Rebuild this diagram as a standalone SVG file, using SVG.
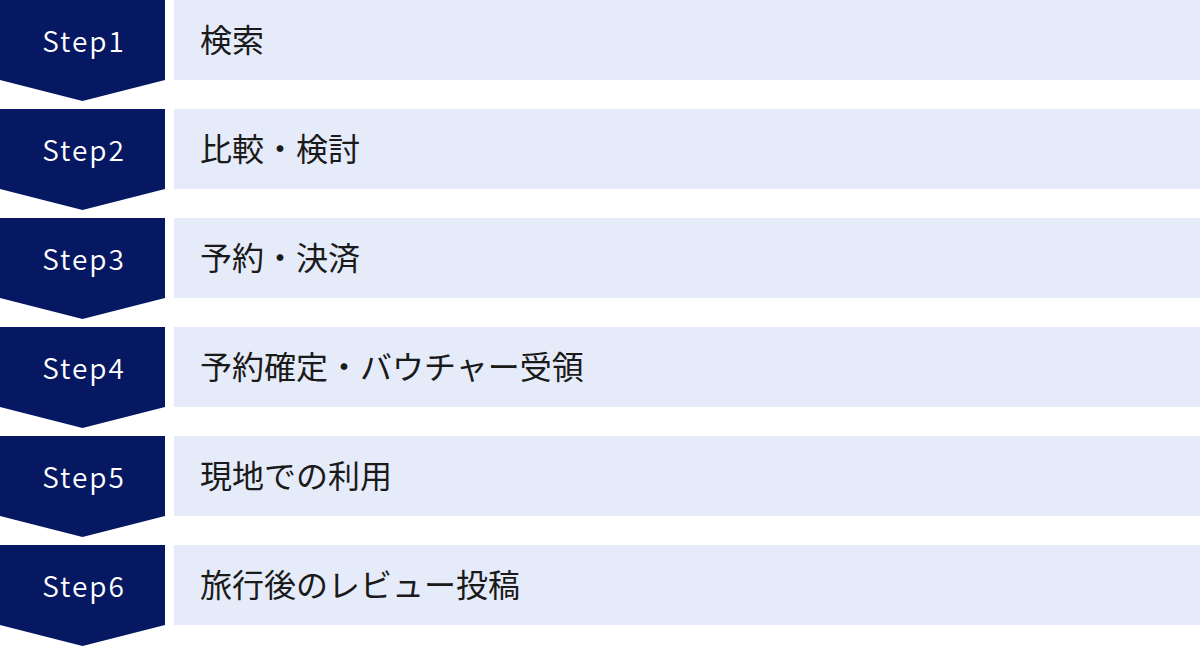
<svg xmlns="http://www.w3.org/2000/svg" width="1200" height="647" viewBox="0 0 1200 647">
<style>
.arrow{fill:#051861}
.bar{fill:#E5EBF8}
.step{font-family:"Noto Sans CJK JP","Noto Sans",sans-serif;font-size:28px;font-weight:350;fill:#ffffff;text-anchor:middle;letter-spacing:2px}
.label{font-family:"Noto Sans CJK JP","Noto Sans",sans-serif;font-size:32px;fill:#1a1a1a}
</style>
<defs>
<polygon id="chev" points="0,0 165,0 165,80 82.5,101 0,80"/>
</defs>
<g id="connectors"></g>
<g id="step1" transform="translate(0,0)">
<use href="#chev" class="arrow"/>
<rect class="bar" x="174" y="0" width="1026" height="80"/>
<text class="step" x="84" y="52">Step1</text>
<text class="label" x="200" y="52">検索</text>
</g>
<g id="step2" transform="translate(0,109)">
<use href="#chev" class="arrow"/>
<rect class="bar" x="174" y="0" width="1026" height="80"/>
<text class="step" x="84" y="52">Step2</text>
<text class="label" x="200" y="52">比較・検討</text>
</g>
<g id="step3" transform="translate(0,218)">
<use href="#chev" class="arrow"/>
<rect class="bar" x="174" y="0" width="1026" height="80"/>
<text class="step" x="84" y="52">Step3</text>
<text class="label" x="200" y="52">予約・決済</text>
</g>
<g id="step4" transform="translate(0,327)">
<use href="#chev" class="arrow"/>
<rect class="bar" x="174" y="0" width="1026" height="80"/>
<text class="step" x="84" y="52">Step4</text>
<text class="label" x="200" y="52">予約確定・バウチャー受領</text>
</g>
<g id="step5" transform="translate(0,436)">
<use href="#chev" class="arrow"/>
<rect class="bar" x="174" y="0" width="1026" height="80"/>
<text class="step" x="84" y="52">Step5</text>
<text class="label" x="200" y="52">現地での利用</text>
</g>
<g id="step6" transform="translate(0,545)">
<use href="#chev" class="arrow"/>
<rect class="bar" x="174" y="0" width="1026" height="80"/>
<text class="step" x="84" y="52">Step6</text>
<text class="label" x="200" y="52">旅行後のレビュー投稿</text>
</g>
</svg>
